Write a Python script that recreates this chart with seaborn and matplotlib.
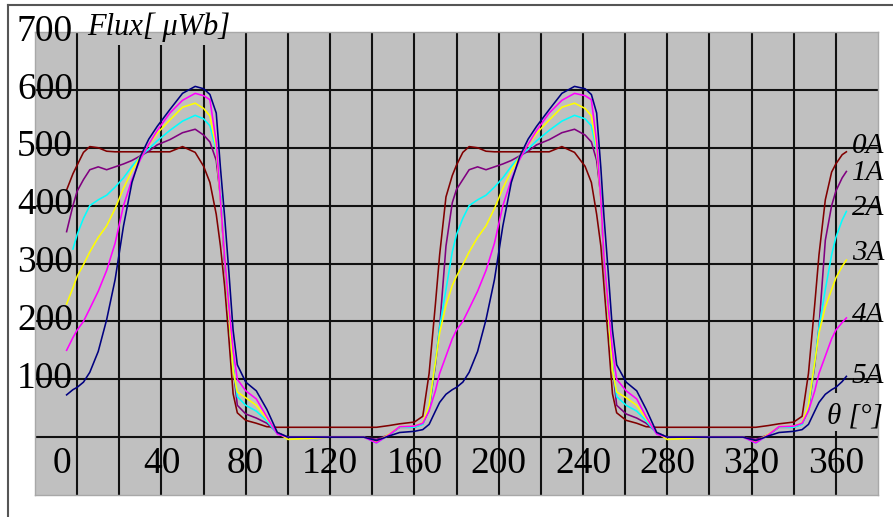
import numpy as np
import pandas as pd
import seaborn as sns
import matplotlib.pyplot as plt
from matplotlib.patches import Rectangle
from matplotlib.lines import Line2D

# rotor angle [deg] (three stretches: first period, second period, start of third)
theta = [-5, -2, 0, 3, 6, 10, 14, 18, 22, 26, 30, 34, 38, 44, 50, 56, 60, 63, 66, 68,
         70, 72, 74, 76, 80, 85, 90, 95, 100, 120, 136, 142, 148, 153, 160, 164, 167, 170, 172,
         175, 178, 180, 183, 186, 190, 194, 198, 202, 206, 210, 214, 218, 224, 230, 236, 241, 244, 246.5, 248.5,
         250, 252, 254, 256, 260.5, 265.5, 270, 275, 280, 300, 316, 322, 328, 333, 340, 344, 347, 350, 352,
         355, 358, 360, 363, 365]

# flux [uWb] for each phase current
flux_0a = [427, 455, 470, 492, 502, 500, 494, 493, 493, 493, 493, 493, 493, 493, 502, 492, 468, 440, 385, 330,
           260, 170, 75, 42, 29, 24, 18, 17, 17, 17, 17, 17, 20, 23, 26, 36, 110, 230, 315,
           415, 452, 470, 492, 502, 500, 494, 493, 493, 493, 493, 493, 493, 493, 502, 492, 468, 440, 385, 330,
           260, 170, 75, 42, 29, 24, 18, 17, 17, 17, 17, 17, 20, 23, 26, 36, 110, 230, 315,
           410, 458, 472, 488, 493]
flux_1a = [355, 400, 425, 445, 462, 467, 462, 467, 472, 478, 486, 494, 505, 514, 526, 532, 522, 510, 478, 415,
           300, 220, 120, 55, 40, 33, 24, 8, 0, 0, 0, -4, 4, 17, 17, 23, 48, 125, 190,
           330, 405, 428, 445, 462, 467, 462, 467, 472, 478, 486, 494, 505, 514, 526, 532, 522, 510, 478, 415,
           300, 220, 120, 55, 40, 33, 24, 8, 0, 0, 0, -4, 4, 17, 17, 23, 48, 125, 190,
           340, 400, 425, 448, 459]
flux_2a = [np.nan, 325, 350, 378, 400, 410, 418, 432, 448, 468, 485, 498, 512, 530, 546, 556, 550, 538, 495, 420,
           310, 215, 120, 70, 55, 45, 28, 6, 0, 0, 0, -10, 4, 17, 17, 22, 50, 130, 190,
           255, 320, 350, 378, 400, 410, 418, 432, 448, 468, 485, 498, 512, 530, 546, 556, 550, 538, 495, 420,
           310, 215, 120, 70, 55, 45, 28, 6, 0, 0, 0, -10, 4, 17, 17, 22, 50, 130, 190,
           255, 315, 345, 375, 390]
flux_3a = [230, 258, 278, 298, 320, 345, 365, 395, 430, 460, 485, 505, 525, 548, 570, 577, 568, 555, 500, 410,
           310, 215, 115, 78, 68, 55, 32, 8, -4, 0, 0, -8, 5, 18, 19, 25, 55, 130, 180,
           228, 262, 278, 298, 320, 345, 365, 395, 430, 460, 485, 505, 525, 548, 570, 577, 568, 555, 500, 410,
           310, 215, 115, 78, 68, 55, 32, 8, -4, 0, 0, -8, 5, 18, 19, 25, 55, 130, 180,
           225, 255, 275, 295, 306]
flux_4a = [150, 172, 185, 200, 222, 252, 288, 335, 400, 445, 480, 506, 530, 560, 582, 594, 590, 583, 510, 410,
           310, 225, 150, 100, 80, 66, 35, 5, 0, 0, 0, -10, 4, 18, 19, 24, 45, 80, 110,
           140, 170, 185, 200, 222, 252, 288, 335, 400, 445, 480, 506, 530, 560, 582, 594, 590, 583, 510, 410,
           310, 225, 150, 100, 80, 66, 35, 5, 0, 0, 0, -10, 4, 18, 19, 24, 45, 80, 110,
           140, 170, 185, 198, 206]
flux_5a = [73, 82, 86, 95, 112, 148, 203, 272, 365, 440, 485, 515, 537, 566, 594, 606, 602, 592, 560, 465,
           380, 285, 185, 125, 95, 80, 48, 8, 0, 0, 0, -6, 2, 8, 10, 13, 22, 45, 60,
           74, 82, 86, 95, 112, 148, 203, 272, 365, 440, 485, 515, 537, 566, 594, 606, 602, 592, 560, 465,
           380, 285, 185, 125, 95, 80, 48, 8, 0, 0, 0, -6, 2, 8, 10, 13, 22, 45, 60,
           74, 82, 86, 96, 105]

currents = ['0A', '1A', '2A', '3A', '4A', '5A']
colors = ['#800000', '#800080', '#00ffff', '#ffff00', '#ff00ff', '#000080']
label_y = [491, 445, 384, 306, 199, 93]
x_labels = [0, 40, 80, 120, 160, 200, 240, 280, 320, 360]
y_labels = [100, 200, 300, 400, 500, 600, 700]

df = pd.DataFrame({'theta': theta, '0A': flux_0a, '1A': flux_1a, '2A': flux_2a,
                   '3A': flux_3a, '4A': flux_4a, '5A': flux_5a})
long = df.melt(id_vars='theta', var_name='current', value_name='flux').dropna()

serif = ['Liberation Serif', 'DejaVu Serif']
gray = '#c0c0c0'

fig = plt.figure(figsize=(8.93, 5.17), dpi=100)
fig.patch.set_facecolor('white')
ax = fig.add_axes([35 / 893, 1 - 495 / 517, 843 / 893, 463 / 517])
ax.set_facecolor(gray)
ax.set_xlim(-20, 380)
ax.set_ylim(-100, 700)
ax.set_xticks([])
ax.set_yticks([])
for s in ax.spines.values():
    s.set_color('#a8a8a8')
    s.set_linewidth(1.0)

for gx in range(0, 361, 20):
    ax.axvline(gx, color='#111111', lw=1.5, zorder=1)
for gy in range(0, 601, 100):
    ax.axhline(gy, color='#111111', lw=1.5, zorder=1)

# label boxes hide the grid behind them
ax.add_patch(Rectangle((3.5, 678), 73, 30, facecolor=gray, edgecolor='none', zorder=1.5))
ax.add_patch(Rectangle((355, 10), 30, 66, facecolor=gray, edgecolor='none', zorder=1.5))

sns.lineplot(data=long, x='theta', y='flux', hue='current', hue_order=currents,
             palette=dict(zip(currents, colors)), estimator=None, sort=False,
             legend=False, lw=1.15, ax=ax, zorder=3)
ax.set_xlabel('')
ax.set_ylabel('')

for v in y_labels:
    ax.text(-2, v - 15, str(v), ha='right', va='baseline', family=serif, size=27, zorder=5)
for v in x_labels:
    ax.text(v if v else -7, -62, str(v), ha='center', va='baseline', family=serif, size=27, zorder=5)

ax.text(4.7, 695, 'Flux[ μWb]', ha='left', va='baseline', family=serif, style='italic',
        size=22, zorder=5)
for name, yv in zip(currents, label_y):
    ax.text(367.5, yv, name, ha='left', va='baseline', family=serif, style='italic',
            size=21, zorder=5)
ax.text(355.6, 24, 'θ [°]', ha='left', va='baseline', family=serif, style='italic',
        size=21, zorder=5)

# outer frame (cut off at right and bottom)
fig.add_artist(Line2D([8 / 893, 8 / 893], [0, 1 - 5 / 517], transform=fig.transFigure,
                      color='#555555', lw=1.5))
fig.add_artist(Line2D([8 / 893, 1], [1 - 5 / 517, 1 - 5 / 517], transform=fig.transFigure,
                      color='#555555', lw=1.5))

fig.savefig('out.png', dpi=100)
